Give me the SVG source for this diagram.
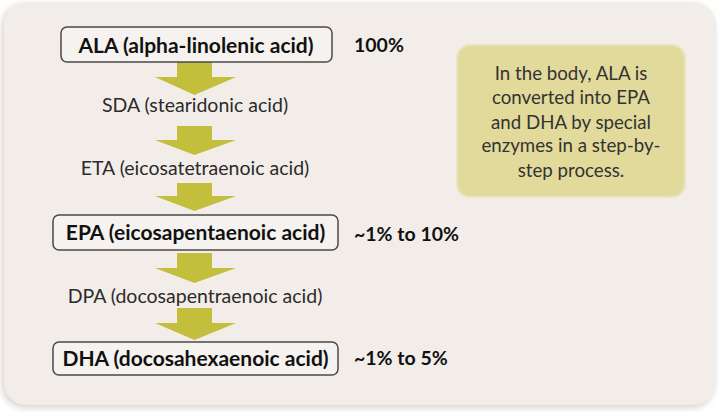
<svg xmlns="http://www.w3.org/2000/svg" width="720" height="412" viewBox="0 0 720 412">
<defs>
<style>
.lbl{font-family:Lato,"Open Sans","Liberation Sans",sans-serif;fill:#2b2b2b;text-anchor:middle;}
.b{font-weight:bold;font-size:21px;fill:#111;}
.r{font-size:19.5px;}
.pct{font-family:Lato,"Open Sans","Liberation Sans",sans-serif;font-weight:bold;font-size:19.5px;fill:#111;}
.box{fill:#F6F2EF;stroke:#4a4a4a;stroke-width:1.5;}
.arr{fill:#C3BE3B;}
.note{font-family:Lato,"Open Sans","Liberation Sans",sans-serif;font-size:18.7px;fill:#333;text-anchor:middle;}
</style>
<filter id="sh" x="-5%" y="-5%" width="110%" height="110%">
<feGaussianBlur stdDeviation="3"/>
</filter>
<filter id="soft" x="-5%" y="-5%" width="110%" height="110%">
<feGaussianBlur stdDeviation="1"/>
</filter>
</defs>
<rect width="720" height="412" fill="#ffffff"/>
<rect x="2" y="4" width="712" height="404" rx="22" fill="#d9d4d0" filter="url(#sh)"/>
<rect x="4" y="3" width="712" height="402" rx="22" fill="#F3EDE9"/>

<g id="connectors">
<polygon class="arr" points="177,62 212,62 212,77 236,77 194.5,95 155,77 177,77"/>
<polygon class="arr" points="177,126 212,126 212,140 236,140 194.5,155 155,140 177,140"/>
<polygon class="arr" points="177,183 212,183 212,196 236,196 194.5,211 155,196 177,196"/>
<polygon class="arr" points="177,253 212,253 212,268 236,268 194.5,283 155,268 177,268"/>
<polygon class="arr" points="177,308 212,308 212,323 236,323 194.5,340 155,323 177,323"/>
</g>

<g id="ala">
<rect class="box" x="61" y="27" width="271" height="35" rx="6"/>
<text class="lbl b" x="196" y="52.5">ALA (alpha-linolenic acid)</text>
</g>
<g id="ala-pct"><text class="pct" x="354" y="52">100%</text></g>

<g id="sda"><text class="lbl r" x="195" y="112">SDA (stearidonic acid)</text></g>
<g id="eta"><text class="lbl r" x="195" y="175">ETA (eicosatetraenoic acid)</text></g>

<g id="epa">
<rect class="box" x="53" y="215" width="285" height="35" rx="6"/>
<text class="lbl b" x="195.5" y="240">EPA (eicosapentaenoic acid)</text>
</g>
<g id="epa-pct"><text class="pct" x="354" y="241">~1% to 10%</text></g>

<g id="dpa"><text class="lbl r" x="195" y="303">DPA (docosapentraenoic acid)</text></g>

<g id="dha">
<rect class="box" x="53" y="342" width="285" height="33" rx="6"/>
<text class="lbl b" x="195.5" y="366">DHA (docosahexaenoic acid)</text>
</g>
<g id="dha-pct"><text class="pct" x="354" y="365">~1% to 5%</text></g>

<g id="note">
<rect x="457" y="45" width="228" height="152" rx="13" fill="#E2DA9B" filter="url(#soft)"/>
<text class="note" x="571" y="79.5">In the body, ALA is</text>
<text class="note" x="571" y="104">converted into EPA</text>
<text class="note" x="571" y="128.5">and DHA by special</text>
<text class="note" x="571" y="152">enzymes in a step-by-</text>
<text class="note" x="571" y="176.5">step process.</text>
</g>
</svg>
